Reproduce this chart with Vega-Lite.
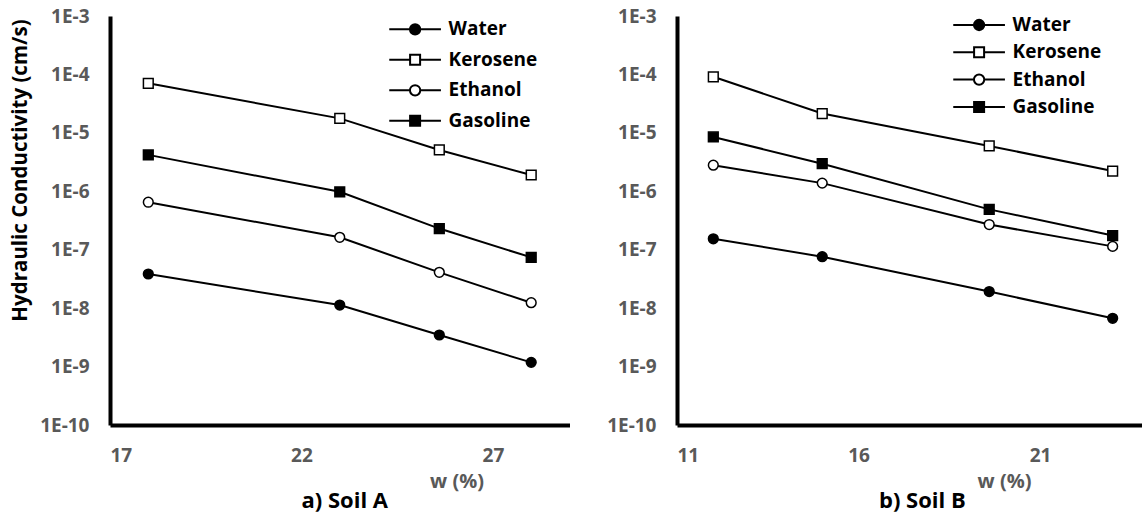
{
  "$schema": "https://vega.github.io/schema/vega-lite/v6.json",
  "background": "white",
  "padding": {"left": 10, "top": 7, "right": 0, "bottom": 6},
  "bounds": "flush",
  "spacing": 107,
  "config": {
    "view": {"stroke": null},
    "font": "Open Sans",
    "axis": {"grid": false, "ticks": false, "domainColor": "black", "domainWidth": 4, "labelFont": "Open Sans", "labelFontWeight": "bold", "labelColor": "#595959", "labelFontSize": 19, "labelPadding": 21, "titleFont": "Open Sans", "titleFontWeight": "bold"},
    "legend": {"title": null, "orient": "none", "padding": 0, "symbolSize": 278, "symbolStrokeWidth": 2, "symbolOpacity": 1, "labelFont": "Open Sans", "labelFontSize": 19, "labelFontWeight": "bold", "labelColor": "black", "labelOffset": 24}
  },
  "data": {"values": [
    {"soil": "A", "fluid": "Kerosene", "w": 18, "k": 7.05e-5},
    {"soil": "A", "fluid": "Kerosene", "w": 23, "k": 1.77e-5},
    {"soil": "A", "fluid": "Kerosene", "w": 25.6, "k": 5.1e-6},
    {"soil": "A", "fluid": "Kerosene", "w": 28, "k": 1.9e-6},
    {"soil": "A", "fluid": "Gasoline", "w": 18, "k": 4.2e-6},
    {"soil": "A", "fluid": "Gasoline", "w": 23, "k": 9.8e-7},
    {"soil": "A", "fluid": "Gasoline", "w": 25.6, "k": 2.3e-7},
    {"soil": "A", "fluid": "Gasoline", "w": 28, "k": 7.4e-8},
    {"soil": "A", "fluid": "Ethanol", "w": 18, "k": 6.5e-7},
    {"soil": "A", "fluid": "Ethanol", "w": 23, "k": 1.63e-7},
    {"soil": "A", "fluid": "Ethanol", "w": 25.6, "k": 4.1e-8},
    {"soil": "A", "fluid": "Ethanol", "w": 28, "k": 1.24e-8},
    {"soil": "A", "fluid": "Water", "w": 18, "k": 3.84e-8},
    {"soil": "A", "fluid": "Water", "w": 23, "k": 1.13e-8},
    {"soil": "A", "fluid": "Water", "w": 25.6, "k": 3.47e-9},
    {"soil": "A", "fluid": "Water", "w": 28, "k": 1.18e-9},
    {"soil": "B", "fluid": "Kerosene", "w": 12, "k": 9.1e-5},
    {"soil": "B", "fluid": "Kerosene", "w": 15, "k": 2.14e-5},
    {"soil": "B", "fluid": "Kerosene", "w": 19.6, "k": 5.97e-6},
    {"soil": "B", "fluid": "Kerosene", "w": 23, "k": 2.22e-6},
    {"soil": "B", "fluid": "Gasoline", "w": 12, "k": 8.5e-6},
    {"soil": "B", "fluid": "Gasoline", "w": 15, "k": 2.97e-6},
    {"soil": "B", "fluid": "Gasoline", "w": 19.6, "k": 4.9e-7},
    {"soil": "B", "fluid": "Gasoline", "w": 23, "k": 1.75e-7},
    {"soil": "B", "fluid": "Ethanol", "w": 12, "k": 2.8e-6},
    {"soil": "B", "fluid": "Ethanol", "w": 15, "k": 1.38e-6},
    {"soil": "B", "fluid": "Ethanol", "w": 19.6, "k": 2.7e-7},
    {"soil": "B", "fluid": "Ethanol", "w": 23, "k": 1.14e-7},
    {"soil": "B", "fluid": "Water", "w": 12, "k": 1.54e-7},
    {"soil": "B", "fluid": "Water", "w": 15, "k": 7.6e-8},
    {"soil": "B", "fluid": "Water", "w": 19.6, "k": 1.92e-8},
    {"soil": "B", "fluid": "Water", "w": 23, "k": 6.7e-9}
  ]},
  "resolve": {"scale": {"x": "independent", "y": "independent", "shape": "independent", "fill": "independent"}, "legend": {"shape": "independent", "fill": "independent"}, "axis": {"x": "independent", "y": "independent"}},
  "hconcat": [
    {
      "width": 459.5,
      "height": 409,
      "transform": [{"filter": "datum.soil == 'A'"}],
      "title": {"text": "a) Soil A", "orient": "bottom", "anchor": "middle", "frame": "group", "dx": 5, "offset": 0, "font": "Open Sans", "fontSize": 22, "fontWeight": "bold", "color": "black"},
      "layer": [
        {
          "mark": {"type": "line", "color": "black", "strokeWidth": 2},
          "encoding": {
            "x": {"field": "w", "type": "quantitative", "scale": {"domain": [17, 29], "nice": false, "zero": false}, "axis": {"values": [17, 22, 27], "title": "w (%)", "titleColor": "#595959", "titleFontSize": 20, "titleX": 346.5, "titleY": 56, "titleBaseline": "middle"}},
            "y": {"field": "k", "type": "quantitative", "scale": {"type": "log", "domain": [1e-10, 1e-3], "nice": false}, "axis": {"values": [1e-10, 1e-9, 1e-8, 1e-7, 1e-6, 1e-5, 1e-4, 1e-3], "labelExpr": "'1E' + round(log(datum.value)/LN10)", "title": "Hydraulic Conductivity (cm/s)", "titleColor": "black", "titleFontSize": 20.5, "titleX": -89.5, "titleY": 154, "titleBaseline": "middle", "titleAngle": 270}},
            "detail": {"field": "fluid"},
            "order": {"field": "w"}
          }
        },
        {
          "mark": {"type": "point", "filled": true, "size": 0, "stroke": "black", "strokeWidth": 2, "opacity": 0},
          "encoding": {
            "x": {"field": "w", "type": "quantitative"},
            "y": {"field": "k", "type": "quantitative"},
            "shape": {"field": "fluid", "type": "nominal", "scale": {"domain": ["Water", "Kerosene", "Ethanol", "Gasoline"], "range": ["M-3.1,0H-0.62A0.62,0.62,0,1,1,0.62,0A0.62,0.62,0,1,1,-0.62,0M0.62,0H3.1", "M-3.1,0H-0.6M-0.6,-0.6H0.6V0.6H-0.6ZM0.6,0H3.1", "M-3.1,0H-0.62A0.62,0.62,0,1,1,0.62,0A0.62,0.62,0,1,1,-0.62,0M0.62,0H3.1", "M-3.1,0H-0.6M-0.6,-0.6H0.6V0.6H-0.6ZM0.6,0H3.1"]},
              "legend": {"legendX": 295.6, "legendY": 3.8, "rowPadding": 10.5}},
            "fill": {"field": "fluid", "type": "nominal", "scale": {"domain": ["Water", "Kerosene", "Ethanol", "Gasoline"], "range": ["black", "white", "white", "black"]},
              "legend": {"legendX": 295.6, "legendY": 3.8, "rowPadding": 10.5}}
          }
        },
        {
          "mark": {"type": "point", "filled": true, "size": 95, "stroke": "black", "strokeWidth": 1.5, "opacity": 1},
          "encoding": {
            "x": {"field": "w", "type": "quantitative"},
            "y": {"field": "k", "type": "quantitative"},
            "shape": {"condition": {"test": "datum.fluid == 'Water' || datum.fluid == 'Ethanol'", "value": "circle"}, "value": "square"},
            "fill": {"condition": {"test": "datum.fluid == 'Water' || datum.fluid == 'Gasoline'", "value": "black"}, "value": "white"}
          }
        }
      ]
    },
    {
      "width": 464.7,
      "height": 409,
      "transform": [{"filter": "datum.soil == 'B'"}],
      "title": {"text": "b) Soil B", "orient": "bottom", "anchor": "middle", "frame": "group", "dx": 13, "offset": 0, "font": "Open Sans", "fontSize": 22, "fontWeight": "bold", "color": "black"},
      "layer": [
        {
          "mark": {"type": "line", "color": "black", "strokeWidth": 2},
          "encoding": {
            "x": {"field": "w", "type": "quantitative", "scale": {"domain": [11, 23.8], "nice": false, "zero": false}, "axis": {"values": [11, 16, 21], "title": "w (%)", "titleColor": "#595959", "titleFontSize": 20, "titleX": 327, "titleY": 56, "titleBaseline": "middle"}},
            "y": {"field": "k", "type": "quantitative", "scale": {"type": "log", "domain": [1e-10, 1e-3], "nice": false}, "axis": {"values": [1e-10, 1e-9, 1e-8, 1e-7, 1e-6, 1e-5, 1e-4, 1e-3], "labelExpr": "'1E' + round(log(datum.value)/LN10)", "title": null}},
            "detail": {"field": "fluid"},
            "order": {"field": "w"}
          }
        },
        {
          "mark": {"type": "point", "filled": true, "size": 0, "stroke": "black", "strokeWidth": 2, "opacity": 0},
          "encoding": {
            "x": {"field": "w", "type": "quantitative"},
            "y": {"field": "k", "type": "quantitative"},
            "shape": {"field": "fluid", "type": "nominal", "scale": {"domain": ["Water", "Kerosene", "Ethanol", "Gasoline"], "range": ["M-3.1,0H-0.62A0.62,0.62,0,1,1,0.62,0A0.62,0.62,0,1,1,-0.62,0M0.62,0H3.1", "M-3.1,0H-0.6M-0.6,-0.6H0.6V0.6H-0.6ZM0.6,0H3.1", "M-3.1,0H-0.62A0.62,0.62,0,1,1,0.62,0A0.62,0.62,0,1,1,-0.62,0M0.62,0H3.1", "M-3.1,0H-0.6M-0.6,-0.6H0.6V0.6H-0.6ZM0.6,0H3.1"]},
              "legend": {"legendX": 292.6, "legendY": -0.5, "rowPadding": 7.3}},
            "fill": {"field": "fluid", "type": "nominal", "scale": {"domain": ["Water", "Kerosene", "Ethanol", "Gasoline"], "range": ["black", "white", "white", "black"]},
              "legend": {"legendX": 292.6, "legendY": -0.5, "rowPadding": 7.3}}
          }
        },
        {
          "mark": {"type": "point", "filled": true, "size": 95, "stroke": "black", "strokeWidth": 1.5, "opacity": 1},
          "encoding": {
            "x": {"field": "w", "type": "quantitative"},
            "y": {"field": "k", "type": "quantitative"},
            "shape": {"condition": {"test": "datum.fluid == 'Water' || datum.fluid == 'Ethanol'", "value": "circle"}, "value": "square"},
            "fill": {"condition": {"test": "datum.fluid == 'Water' || datum.fluid == 'Gasoline'", "value": "black"}, "value": "white"}
          }
        }
      ]
    }
  ]
}
